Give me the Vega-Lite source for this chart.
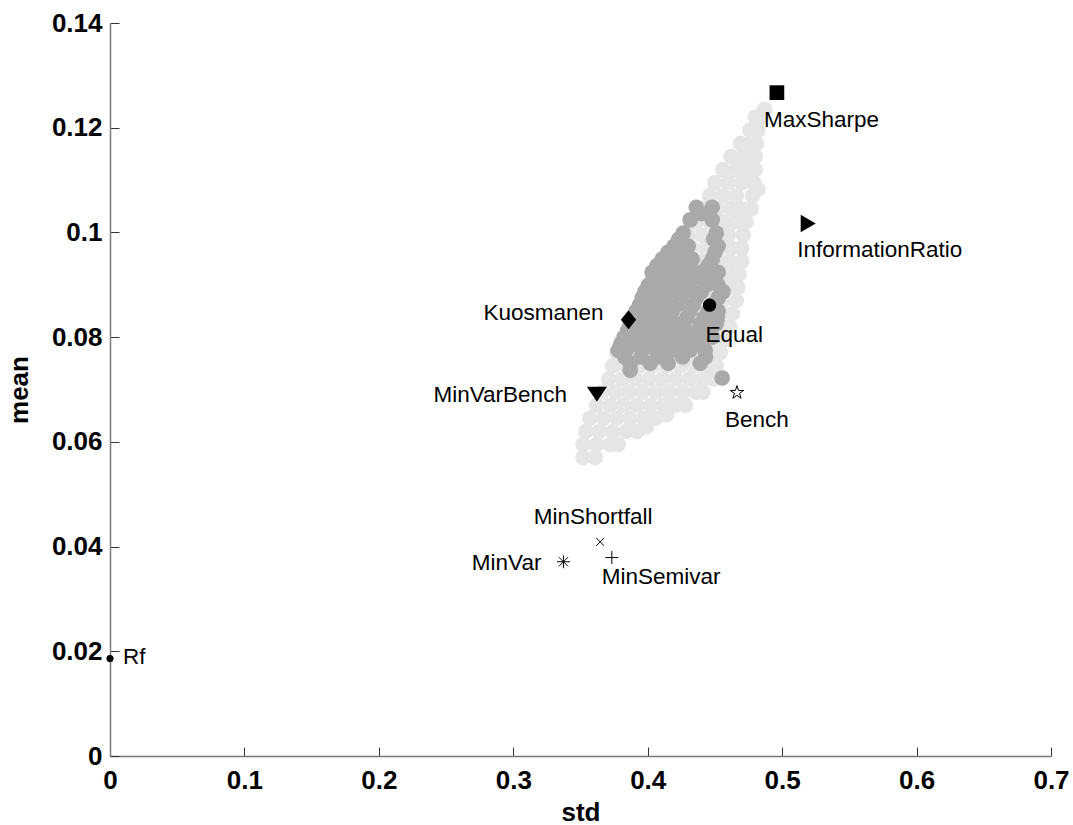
{
  "$schema": "https://vega.github.io/schema/vega-lite/v6.json",
  "width": 941,
  "height": 733,
  "autosize": {"type": "none"},
  "padding": {"left": 110, "top": 23, "right": 22, "bottom": 69},
  "background": "white",
  "config": {
    "view": {"stroke": null},
    "axis": {
      "grid": false,
      "domainColor": "#7a7a7a",
      "domainWidth": 1.5,
      "tickColor": "#333333",
      "tickWidth": 1,
      "tickSize": -9,
      "labelFont": "Liberation Sans",
      "labelFontWeight": "bold",
      "labelFontSize": 26,
      "labelColor": "black",
      "labelFlush": false,
      "labelOverlap": false,
      "labelBound": false,
      "titleFont": "Liberation Sans",
      "titleFontWeight": "bold",
      "titleFontSize": 26,
      "titleColor": "black"
    }
  },
  "datasets": {
    "cloud": [
      {"std":0.352,"mean":0.0570,"group":"light"},{"std":0.361,"mean":0.0570,"group":"light"},
      {"std":0.352,"mean":0.0595,"group":"light"},{"std":0.362,"mean":0.0595,"group":"light"},{"std":0.372,"mean":0.0595,"group":"light"},{"std":0.378,"mean":0.0595,"group":"light"},
      {"std":0.354,"mean":0.0620,"group":"light"},{"std":0.364,"mean":0.0620,"group":"light"},{"std":0.374,"mean":0.0620,"group":"light"},{"std":0.384,"mean":0.0620,"group":"light"},{"std":0.392,"mean":0.0620,"group":"light"},{"std":0.399,"mean":0.0628,"group":"light"},
      {"std":0.357,"mean":0.0645,"group":"light"},{"std":0.367,"mean":0.0645,"group":"light"},{"std":0.377,"mean":0.0645,"group":"light"},{"std":0.387,"mean":0.0645,"group":"light"},{"std":0.397,"mean":0.0645,"group":"light"},{"std":0.406,"mean":0.0645,"group":"light"},{"std":0.414,"mean":0.0652,"group":"light"},
      {"std":0.362,"mean":0.0670,"group":"light"},{"std":0.372,"mean":0.0670,"group":"light"},{"std":0.382,"mean":0.0670,"group":"light"},{"std":0.392,"mean":0.0670,"group":"light"},{"std":0.402,"mean":0.0670,"group":"light"},{"std":0.412,"mean":0.0670,"group":"light"},{"std":0.421,"mean":0.0670,"group":"light"},{"std":0.428,"mean":0.0670,"group":"light"},
      {"std":0.366,"mean":0.0695,"group":"light"},{"std":0.376,"mean":0.0695,"group":"light"},{"std":0.386,"mean":0.0695,"group":"light"},{"std":0.396,"mean":0.0695,"group":"light"},{"std":0.406,"mean":0.0695,"group":"light"},{"std":0.416,"mean":0.0695,"group":"light"},{"std":0.426,"mean":0.0695,"group":"light"},{"std":0.436,"mean":0.0695,"group":"light"},{"std":0.441,"mean":0.0695,"group":"light"},
      {"std":0.371,"mean":0.0720,"group":"light"},{"std":0.381,"mean":0.0720,"group":"light"},{"std":0.391,"mean":0.0720,"group":"light"},{"std":0.401,"mean":0.0720,"group":"light"},{"std":0.411,"mean":0.0720,"group":"light"},{"std":0.421,"mean":0.0720,"group":"light"},{"std":0.431,"mean":0.0720,"group":"light"},{"std":0.441,"mean":0.0720,"group":"light"},{"std":0.449,"mean":0.0720,"group":"light"},
      {"std":0.374,"mean":0.0745,"group":"light"},{"std":0.384,"mean":0.0745,"group":"light"},{"std":0.394,"mean":0.0745,"group":"light"},{"std":0.404,"mean":0.0745,"group":"light"},{"std":0.414,"mean":0.0745,"group":"light"},{"std":0.424,"mean":0.0745,"group":"light"},{"std":0.434,"mean":0.0745,"group":"light"},{"std":0.444,"mean":0.0745,"group":"light"},{"std":0.451,"mean":0.0745,"group":"light"},
      {"std":0.377,"mean":0.0770,"group":"light"},{"std":0.387,"mean":0.0770,"group":"light"},{"std":0.397,"mean":0.0770,"group":"light"},{"std":0.407,"mean":0.0770,"group":"light"},{"std":0.417,"mean":0.0770,"group":"light"},{"std":0.427,"mean":0.0770,"group":"light"},{"std":0.437,"mean":0.0770,"group":"light"},{"std":0.447,"mean":0.0770,"group":"light"},{"std":0.454,"mean":0.0770,"group":"light"},
      {"std":0.381,"mean":0.0795,"group":"light"},{"std":0.391,"mean":0.0795,"group":"light"},{"std":0.401,"mean":0.0795,"group":"light"},{"std":0.411,"mean":0.0795,"group":"light"},{"std":0.421,"mean":0.0795,"group":"light"},{"std":0.431,"mean":0.0795,"group":"light"},{"std":0.441,"mean":0.0795,"group":"light"},{"std":0.451,"mean":0.0795,"group":"light"},{"std":0.457,"mean":0.0795,"group":"light"},
      {"std":0.387,"mean":0.0820,"group":"light"},{"std":0.397,"mean":0.0820,"group":"light"},{"std":0.407,"mean":0.0820,"group":"light"},{"std":0.417,"mean":0.0820,"group":"light"},{"std":0.427,"mean":0.0820,"group":"light"},{"std":0.437,"mean":0.0820,"group":"light"},{"std":0.447,"mean":0.0820,"group":"light"},{"std":0.455,"mean":0.0820,"group":"light"},{"std":0.461,"mean":0.0820,"group":"light"},
      {"std":0.392,"mean":0.0845,"group":"light"},{"std":0.402,"mean":0.0845,"group":"light"},{"std":0.412,"mean":0.0845,"group":"light"},{"std":0.422,"mean":0.0845,"group":"light"},{"std":0.432,"mean":0.0845,"group":"light"},{"std":0.442,"mean":0.0845,"group":"light"},{"std":0.452,"mean":0.0845,"group":"light"},{"std":0.463,"mean":0.0845,"group":"light"},
      {"std":0.396,"mean":0.0870,"group":"light"},{"std":0.406,"mean":0.0870,"group":"light"},{"std":0.416,"mean":0.0870,"group":"light"},{"std":0.426,"mean":0.0870,"group":"light"},{"std":0.436,"mean":0.0870,"group":"light"},{"std":0.446,"mean":0.0870,"group":"light"},{"std":0.456,"mean":0.0870,"group":"light"},{"std":0.466,"mean":0.0870,"group":"light"},
      {"std":0.401,"mean":0.0895,"group":"light"},{"std":0.411,"mean":0.0895,"group":"light"},{"std":0.421,"mean":0.0895,"group":"light"},{"std":0.431,"mean":0.0895,"group":"light"},{"std":0.441,"mean":0.0895,"group":"light"},{"std":0.451,"mean":0.0895,"group":"light"},{"std":0.460,"mean":0.0895,"group":"light"},{"std":0.467,"mean":0.0895,"group":"light"},
      {"std":0.406,"mean":0.0920,"group":"light"},{"std":0.416,"mean":0.0920,"group":"light"},{"std":0.426,"mean":0.0920,"group":"light"},{"std":0.436,"mean":0.0920,"group":"light"},{"std":0.446,"mean":0.0920,"group":"light"},{"std":0.456,"mean":0.0920,"group":"light"},{"std":0.463,"mean":0.0920,"group":"light"},{"std":0.468,"mean":0.0920,"group":"light"},
      {"std":0.412,"mean":0.0945,"group":"light"},{"std":0.422,"mean":0.0945,"group":"light"},{"std":0.432,"mean":0.0945,"group":"light"},{"std":0.442,"mean":0.0945,"group":"light"},{"std":0.452,"mean":0.0945,"group":"light"},{"std":0.461,"mean":0.0945,"group":"light"},{"std":0.470,"mean":0.0945,"group":"light"},
      {"std":0.423,"mean":0.0970,"group":"light"},{"std":0.433,"mean":0.0970,"group":"light"},{"std":0.443,"mean":0.0970,"group":"light"},{"std":0.453,"mean":0.0970,"group":"light"},{"std":0.462,"mean":0.0970,"group":"light"},{"std":0.470,"mean":0.0970,"group":"light"},
      {"std":0.430,"mean":0.0995,"group":"light"},{"std":0.440,"mean":0.0995,"group":"light"},{"std":0.450,"mean":0.0995,"group":"light"},{"std":0.460,"mean":0.0995,"group":"light"},{"std":0.471,"mean":0.0995,"group":"light"},
      {"std":0.436,"mean":0.1020,"group":"light"},{"std":0.446,"mean":0.1020,"group":"light"},{"std":0.456,"mean":0.1020,"group":"light"},{"std":0.465,"mean":0.1020,"group":"light"},{"std":0.473,"mean":0.1020,"group":"light"},
      {"std":0.442,"mean":0.1045,"group":"light"},{"std":0.452,"mean":0.1045,"group":"light"},{"std":0.462,"mean":0.1045,"group":"light"},{"std":0.470,"mean":0.1045,"group":"light"},{"std":0.477,"mean":0.1045,"group":"light"},
      {"std":0.446,"mean":0.1070,"group":"light"},{"std":0.456,"mean":0.1070,"group":"light"},{"std":0.466,"mean":0.1070,"group":"light"},{"std":0.478,"mean":0.1070,"group":"light"},{"std":0.482,"mean":0.1082,"group":"light"},
      {"std":0.450,"mean":0.1095,"group":"light"},{"std":0.460,"mean":0.1095,"group":"light"},{"std":0.470,"mean":0.1095,"group":"light"},{"std":0.479,"mean":0.1095,"group":"light"},
      {"std":0.456,"mean":0.1120,"group":"light"},{"std":0.466,"mean":0.1120,"group":"light"},{"std":0.474,"mean":0.1120,"group":"light"},{"std":0.480,"mean":0.1120,"group":"light"},
      {"std":0.462,"mean":0.1145,"group":"light"},{"std":0.471,"mean":0.1145,"group":"light"},{"std":0.480,"mean":0.1145,"group":"light"},
      {"std":0.469,"mean":0.1170,"group":"light"},{"std":0.476,"mean":0.1170,"group":"light"},{"std":0.481,"mean":0.1170,"group":"light"},
      {"std":0.476,"mean":0.1195,"group":"light"},{"std":0.482,"mean":0.1195,"group":"light"},
      {"std":0.480,"mean":0.1220,"group":"light"},{"std":0.484,"mean":0.1220,"group":"light"},
      {"std":0.487,"mean":0.1235,"group":"light"},
      {"std":0.4361,"mean":0.1048,"group":"dark"},{"std":0.4480,"mean":0.1048,"group":"dark"},
      {"std":0.4400,"mean":0.1036,"group":"dark"},
      {"std":0.4316,"mean":0.1024,"group":"dark"},{"std":0.4480,"mean":0.1024,"group":"dark"},
      {"std":0.4264,"mean":0.0999,"group":"dark"},{"std":0.4510,"mean":0.0999,"group":"dark"},
      {"std":0.4230,"mean":0.0987,"group":"dark"},{"std":0.4490,"mean":0.0987,"group":"dark"},
      {"std":0.4197,"mean":0.0974,"group":"dark"},{"std":0.4301,"mean":0.0974,"group":"dark"},{"std":0.4524,"mean":0.0974,"group":"dark"},
      {"std":0.4150,"mean":0.0962,"group":"dark"},{"std":0.4260,"mean":0.0962,"group":"dark"},{"std":0.4500,"mean":0.0962,"group":"dark"},
      {"std":0.4108,"mean":0.0949,"group":"dark"},{"std":0.4212,"mean":0.0949,"group":"dark"},{"std":0.4331,"mean":0.0949,"group":"dark"},{"std":0.4480,"mean":0.0949,"group":"dark"},
      {"std":0.4070,"mean":0.0937,"group":"dark"},{"std":0.4180,"mean":0.0937,"group":"dark"},{"std":0.4300,"mean":0.0937,"group":"dark"},{"std":0.4450,"mean":0.0937,"group":"dark"},
      {"std":0.4033,"mean":0.0924,"group":"dark"},{"std":0.4137,"mean":0.0924,"group":"dark"},{"std":0.4242,"mean":0.0924,"group":"dark"},{"std":0.4391,"mean":0.0924,"group":"dark"},{"std":0.4524,"mean":0.0924,"group":"dark"},
      {"std":0.4040,"mean":0.0912,"group":"dark"},{"std":0.4110,"mean":0.0912,"group":"dark"},{"std":0.4210,"mean":0.0912,"group":"dark"},{"std":0.4340,"mean":0.0912,"group":"dark"},{"std":0.4470,"mean":0.0912,"group":"dark"},
      {"std":0.4004,"mean":0.0899,"group":"dark"},{"std":0.4078,"mean":0.0899,"group":"dark"},{"std":0.4182,"mean":0.0899,"group":"dark"},{"std":0.4301,"mean":0.0899,"group":"dark"},{"std":0.4435,"mean":0.0899,"group":"dark"},{"std":0.4524,"mean":0.0899,"group":"dark"},
      {"std":0.3980,"mean":0.0887,"group":"dark"},{"std":0.4050,"mean":0.0887,"group":"dark"},{"std":0.4150,"mean":0.0887,"group":"dark"},{"std":0.4270,"mean":0.0887,"group":"dark"},{"std":0.4400,"mean":0.0887,"group":"dark"},{"std":0.4560,"mean":0.0887,"group":"dark"},
      {"std":0.3959,"mean":0.0875,"group":"dark"},{"std":0.4018,"mean":0.0875,"group":"dark"},{"std":0.4123,"mean":0.0875,"group":"dark"},{"std":0.4242,"mean":0.0875,"group":"dark"},{"std":0.4361,"mean":0.0875,"group":"dark"},{"std":0.4524,"mean":0.0875,"group":"dark"},
      {"std":0.3940,"mean":0.0862,"group":"dark"},{"std":0.4000,"mean":0.0862,"group":"dark"},{"std":0.4110,"mean":0.0862,"group":"dark"},{"std":0.4220,"mean":0.0862,"group":"dark"},{"std":0.4340,"mean":0.0862,"group":"dark"},{"std":0.4480,"mean":0.0862,"group":"dark"},
      {"std":0.3914,"mean":0.0850,"group":"dark"},{"std":0.3974,"mean":0.0850,"group":"dark"},{"std":0.4078,"mean":0.0850,"group":"dark"},{"std":0.4182,"mean":0.0850,"group":"dark"},{"std":0.4316,"mean":0.0850,"group":"dark"},{"std":0.4450,"mean":0.0850,"group":"dark"},{"std":0.4524,"mean":0.0850,"group":"dark"},
      {"std":0.3890,"mean":0.0837,"group":"dark"},{"std":0.3950,"mean":0.0837,"group":"dark"},{"std":0.4060,"mean":0.0837,"group":"dark"},{"std":0.4160,"mean":0.0837,"group":"dark"},{"std":0.4290,"mean":0.0837,"group":"dark"},{"std":0.4420,"mean":0.0837,"group":"dark"},{"std":0.4520,"mean":0.0837,"group":"dark"},
      {"std":0.3870,"mean":0.0825,"group":"dark"},{"std":0.3914,"mean":0.0825,"group":"dark"},{"std":0.4018,"mean":0.0825,"group":"dark"},{"std":0.4123,"mean":0.0825,"group":"dark"},{"std":0.4242,"mean":0.0825,"group":"dark"},{"std":0.4391,"mean":0.0825,"group":"dark"},{"std":0.4510,"mean":0.0825,"group":"dark"},
      {"std":0.3850,"mean":0.0812,"group":"dark"},{"std":0.3940,"mean":0.0812,"group":"dark"},{"std":0.4050,"mean":0.0812,"group":"dark"},{"std":0.4160,"mean":0.0812,"group":"dark"},{"std":0.4290,"mean":0.0812,"group":"dark"},{"std":0.4420,"mean":0.0812,"group":"dark"},
      {"std":0.3825,"mean":0.0800,"group":"dark"},{"std":0.3870,"mean":0.0800,"group":"dark"},{"std":0.3989,"mean":0.0800,"group":"dark"},{"std":0.4093,"mean":0.0800,"group":"dark"},{"std":0.4212,"mean":0.0800,"group":"dark"},{"std":0.4346,"mean":0.0800,"group":"dark"},{"std":0.4480,"mean":0.0800,"group":"dark"},
      {"std":0.3800,"mean":0.0787,"group":"dark"},{"std":0.3900,"mean":0.0787,"group":"dark"},{"std":0.4020,"mean":0.0787,"group":"dark"},{"std":0.4130,"mean":0.0787,"group":"dark"},{"std":0.4250,"mean":0.0787,"group":"dark"},{"std":0.4380,"mean":0.0787,"group":"dark"},
      {"std":0.3780,"mean":0.0775,"group":"dark"},{"std":0.3840,"mean":0.0775,"group":"dark"},{"std":0.3959,"mean":0.0775,"group":"dark"},{"std":0.4063,"mean":0.0775,"group":"dark"},{"std":0.4182,"mean":0.0775,"group":"dark"},{"std":0.4316,"mean":0.0775,"group":"dark"},{"std":0.4428,"mean":0.0775,"group":"dark"},
      {"std":0.3830,"mean":0.0762,"group":"dark"},{"std":0.3950,"mean":0.0762,"group":"dark"},{"std":0.4100,"mean":0.0762,"group":"dark"},{"std":0.4260,"mean":0.0762,"group":"dark"},{"std":0.4430,"mean":0.0762,"group":"dark"},
      {"std":0.3870,"mean":0.0750,"group":"dark"},{"std":0.4018,"mean":0.0750,"group":"dark"},{"std":0.4152,"mean":0.0750,"group":"dark"},{"std":0.4391,"mean":0.0750,"group":"dark"},
      {"std":0.3870,"mean":0.0737,"group":"dark"},
      {"std":0.4554,"mean":0.0722,"group":"dark"}
    ],
    "pts": [
      {"name":"MaxSharpe","std":0.4961,"mean":0.1267},
      {"name":"InformationRatio","std":0.5194,"mean":0.1017},
      {"name":"Equal","std":0.4460,"mean":0.0861},
      {"name":"Kuosmanen","std":0.3857,"mean":0.0833},
      {"name":"MinVarBench","std":0.3622,"mean":0.0691},
      {"name":"Bench","std":0.4664,"mean":0.0694},
      {"name":"MinShortfall","std":0.3646,"mean":0.0409},
      {"name":"MinSemivar","std":0.3733,"mean":0.0379},
      {"name":"MinVar","std":0.3373,"mean":0.0371},
      {"name":"Rf","std":0,"mean":0.0186}
    ]
  },
  "encoding": {
    "x": {
      "field": "std", "type": "quantitative",
      "scale": {"domain": [0, 0.7], "nice": false, "zero": false},
      "axis": {"title": "std", "values": [0, 0.1, 0.2, 0.3, 0.4, 0.5, 0.6, 0.7], "format": "~g", "labelPadding": 20, "titlePadding": 6}
    },
    "y": {
      "field": "mean", "type": "quantitative",
      "scale": {"domain": [0, 0.14], "nice": false, "zero": false},
      "axis": {"title": "mean", "values": [0, 0.02, 0.04, 0.06, 0.08, 0.1, 0.12, 0.14], "format": "~g", "labelPadding": 17, "titlePadding": 19}
    }
  },
  "layer": [
    {
      "data": {"name": "cloud"},
      "mark": {"type": "circle", "size": 245, "opacity": 1, "strokeWidth": 0},
      "encoding": {
        "color": {"field": "group", "type": "nominal", "scale": {"domain": ["light", "dark"], "range": ["#e5e5e5", "#a9a9a9"]}, "legend": null}
      }
    },
    {
      "data": {"name": "pts"},
      "transform": [{"filter": {"field": "name", "oneOf": ["MaxSharpe", "InformationRatio", "Equal", "Kuosmanen", "MinVarBench", "Rf"]}}],
      "mark": {"type": "point", "filled": true, "opacity": 1, "color": "black", "strokeWidth": 0},
      "encoding": {
        "shape": {"field": "name", "type": "nominal", "legend": null, "scale": {"type": "ordinal", "domain": ["MaxSharpe", "InformationRatio", "Equal", "Kuosmanen", "MinVarBench", "Rf", "Bench", "MinShortfall", "MinSemivar", "MinVar"], "range": ["square", "M-0.85,-1L0.85,0L-0.85,1Z", "circle", "M0,-1L0.8,0L0,1L-0.8,0Z", "M-1,-0.75L1,-0.75L0,0.75Z", "circle", "M0,-1L0.2245,-0.309L0.951,-0.309L0.363,0.118L0.588,0.809L0,0.382L-0.588,0.809L-0.363,0.118L-0.951,-0.309L-0.2245,-0.309Z", "M-1,-1L1,1M-1,1L1,-1", "M-1,0L1,0M0,-1L0,1", "M-1,0L1,0M0,-1L0,1M-0.7,-0.7L0.7,0.7M-0.7,0.7L0.7,-0.7"]}},
        "size": {"field": "name", "type": "nominal", "legend": null, "scale": {"type": "ordinal", "domain": ["MaxSharpe", "InformationRatio", "Equal", "Kuosmanen", "MinVarBench", "Rf", "Bench", "MinShortfall", "MinSemivar", "MinVar"], "range": [216, 313, 177, 361, 400, 50, 196, 64, 169, 169]}}
      }
    },
    {
      "data": {"name": "pts"},
      "transform": [{"filter": {"field": "name", "oneOf": ["Bench", "MinShortfall", "MinSemivar", "MinVar"]}}],
      "mark": {"type": "point", "filled": false, "opacity": 1, "color": "black", "strokeWidth": 1},
      "encoding": {
        "shape": {"field": "name", "type": "nominal", "legend": null, "scale": {"type": "ordinal", "domain": ["MaxSharpe", "InformationRatio", "Equal", "Kuosmanen", "MinVarBench", "Rf", "Bench", "MinShortfall", "MinSemivar", "MinVar"], "range": ["square", "M-0.85,-1L0.85,0L-0.85,1Z", "circle", "M0,-1L0.8,0L0,1L-0.8,0Z", "M-1,-0.75L1,-0.75L0,0.75Z", "circle", "M0,-1L0.2245,-0.309L0.951,-0.309L0.363,0.118L0.588,0.809L0,0.382L-0.588,0.809L-0.363,0.118L-0.951,-0.309L-0.2245,-0.309Z", "M-1,-1L1,1M-1,1L1,-1", "M-1,0L1,0M0,-1L0,1", "M-1,0L1,0M0,-1L0,1M-0.7,-0.7L0.7,0.7M-0.7,0.7L0.7,-0.7"]}},
        "size": {"field": "name", "type": "nominal", "legend": null, "scale": {"type": "ordinal", "domain": ["MaxSharpe", "InformationRatio", "Equal", "Kuosmanen", "MinVarBench", "Rf", "Bench", "MinShortfall", "MinSemivar", "MinVar"], "range": [216, 313, 177, 361, 400, 50, 196, 64, 169, 169]}}
      }
    },
    {"data": {"name": "pts"}, "transform": [{"filter": "datum.name === 'MaxSharpe'"}], "mark": {"type": "text", "align": "left", "baseline": "alphabetic", "dx": -13, "dy": 34, "font": "Liberation Sans", "fontSize": 22.5, "color": "black"}, "encoding": {"text": {"field": "name"}}},
    {"data": {"name": "pts"}, "transform": [{"filter": "datum.name === 'InformationRatio'"}], "mark": {"type": "text", "align": "left", "baseline": "alphabetic", "dx": -11, "dy": 33, "font": "Liberation Sans", "fontSize": 22.5, "color": "black"}, "encoding": {"text": {"field": "name"}}},
    {"data": {"name": "pts"}, "transform": [{"filter": "datum.name === 'Equal'"}], "mark": {"type": "text", "align": "left", "baseline": "alphabetic", "dx": -4, "dy": 37, "font": "Liberation Sans", "fontSize": 22.5, "color": "black"}, "encoding": {"text": {"field": "name"}}},
    {"data": {"name": "pts"}, "transform": [{"filter": "datum.name === 'Kuosmanen'"}], "mark": {"type": "text", "align": "right", "baseline": "alphabetic", "dx": -25, "dy": 0, "font": "Liberation Sans", "fontSize": 22.5, "color": "black"}, "encoding": {"text": {"field": "name"}}},
    {"data": {"name": "pts"}, "transform": [{"filter": "datum.name === 'MinVarBench'"}], "mark": {"type": "text", "align": "right", "baseline": "alphabetic", "dx": -30, "dy": 8, "font": "Liberation Sans", "fontSize": 22.5, "color": "black"}, "encoding": {"text": {"field": "name"}}},
    {"data": {"name": "pts"}, "transform": [{"filter": "datum.name === 'Bench'"}], "mark": {"type": "text", "align": "left", "baseline": "alphabetic", "dx": -12, "dy": 34, "font": "Liberation Sans", "fontSize": 22.5, "color": "black"}, "encoding": {"text": {"field": "name"}}},
    {"data": {"name": "pts"}, "transform": [{"filter": "datum.name === 'MinShortfall'"}], "mark": {"type": "text", "align": "center", "baseline": "alphabetic", "dx": -7, "dy": -18, "font": "Liberation Sans", "fontSize": 22.5, "color": "black"}, "encoding": {"text": {"field": "name"}}},
    {"data": {"name": "pts"}, "transform": [{"filter": "datum.name === 'MinSemivar'"}], "mark": {"type": "text", "align": "left", "baseline": "alphabetic", "dx": -10, "dy": 26, "font": "Liberation Sans", "fontSize": 22.5, "color": "black"}, "encoding": {"text": {"field": "name"}}},
    {"data": {"name": "pts"}, "transform": [{"filter": "datum.name === 'MinVar'"}], "mark": {"type": "text", "align": "right", "baseline": "alphabetic", "dx": -22, "dy": 8, "font": "Liberation Sans", "fontSize": 22.5, "color": "black"}, "encoding": {"text": {"field": "name"}}},
    {"data": {"name": "pts"}, "transform": [{"filter": "datum.name === 'Rf'"}], "mark": {"type": "text", "align": "left", "baseline": "alphabetic", "dx": 13, "dy": 5, "font": "Liberation Sans", "fontSize": 22.5, "color": "black"}, "encoding": {"text": {"field": "name"}}}
  ]
}
